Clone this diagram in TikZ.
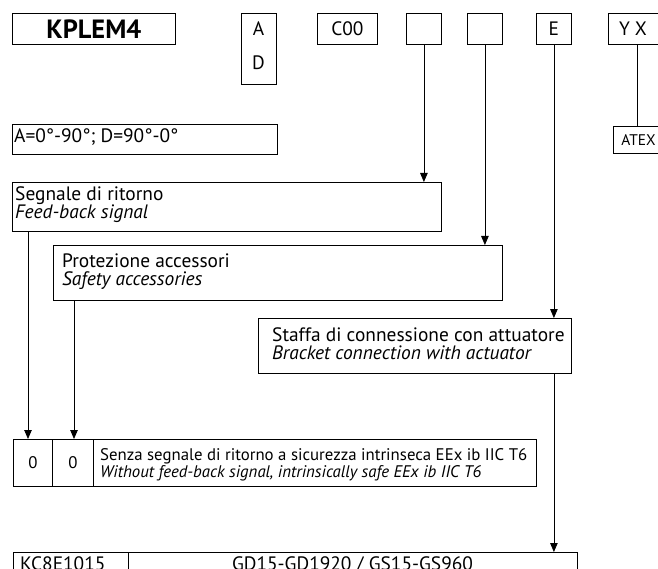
\documentclass[tikz,border=0pt]{standalone}
\usepackage{fontspec}
\setmainfont{PT Sans}
\usetikzlibrary{arrows.meta}

\tikzset{
  box/.style={draw, line width=0.8pt, inner sep=0pt, anchor=north west},
  conn/.style={line width=0.8pt},
  arr/.style={line width=0.8pt, -{Triangle[length=9pt,width=7.5pt]}},
  txt/.style={inner sep=0pt, anchor=base west, font=\fontsize{19.4}{22}\selectfont},
  small/.style={inner sep=0pt, anchor=base west, font=\fontsize{16.8}{19}\selectfont},
}

\begin{document}
\begin{tikzpicture}[x=1pt, y=-1pt]
\useasboundingbox (0,0) rectangle (658,569);
\clip (0,0) rectangle (658,569);

% code boxes on top
\node [box, minimum width=163, minimum height=31, font=\fontsize{26.4}{30}\selectfont\bfseries] (kplem) at (12,13) {KPLEM4};
\node [box, minimum width=35, minimum height=71] (selAD) at (241,13) {};
\node [txt, anchor=base] (selA) at (258.5,36) {A};
\node [txt, anchor=base] (selD) at (258.5,70) {D};
\node [box, minimum width=60, minimum height=31, font=\fontsize{19.4}{22}\selectfont] (selC) at (317,13) {C00};
\node [box, minimum width=35, minimum height=31] (selP1) at (406,13) {};
\node [box, minimum width=35, minimum height=31] (selP2) at (467,13) {};
\node [box, minimum width=35, minimum height=31, font=\fontsize{19.4}{22}\selectfont] (selE) at (536,13) {E};
\node [box, minimum width=58, minimum height=31] (selYX) at (608,13) {};
\node [txt, anchor=base] (yx) at (633,36) {Y X};
\node [box, minimum width=50, minimum height=27, font=\fontsize{15.4}{17}\selectfont] (atex) at (613,126) {ATEX};

% description boxes
\node [box, minimum width=265, minimum height=30] (angle) at (12,124) {};
\node [txt] (angleT) at (14,143) {A=0°-90°; D=90°-0°};

\node [box, minimum width=429, minimum height=49] (segn) at (12,182) {};
\node [txt] (segnIt) at (15,201) {Segnale di ritorno};
\node [txt] (segnEn) at (15,219) {\itshape Feed-back signal};

\node [box, minimum width=449, minimum height=55] (prot) at (53,245) {};
\node [txt] (protIt) at (62,267) {Protezione accessori};
\node [txt] (protEn) at (62,285) {\itshape Safety accessories};

\node [box, minimum width=313, minimum height=55] (staffa) at (258,318) {};
\node [txt] (staffaIt) at (272,341) {Staffa di connessione con attuatore};
\node [txt] (staffaEn) at (272,359) {\itshape Bracket connection with actuator};

% option row
\node [box, minimum width=39, minimum height=47, font=\fontsize{16.8}{19}\selectfont] (zeroA) at (13,439) {0};
\node [box, minimum width=41, minimum height=47, font=\fontsize{16.8}{19}\selectfont] (zeroB) at (52,439) {0};
\node [box, minimum width=443, minimum height=47] (zeroT) at (93,439) {};
\node [small] (zeroIt) at (100,460) {Senza segnale di ritorno a sicurezza intrinseca EEx ib IIC T6};
\node [small] (zeroEn) at (100,477) {\itshape Without feed-back signal, intrinsically safe EEx ib IIC T6};

% bracket row
\node [box, minimum width=115, minimum height=30] (kc) at (13,552) {};
\node [txt] (kcT) at (20,570) {KC8E1015};
\node [box, minimum width=449, minimum height=30] (gd) at (128,552) {};
\node [txt, anchor=base] (gdT) at (352.5,570) {GD15-GD1920 / GS15-GS960};

% connectors
\draw [arr] (selP1.south) -- (selP1.south |- segn.north);
\draw [arr] (selP2.south) -- (selP2.south |- prot.north);
\draw [arr] (selE.south) -- (selE.south |- staffa.north);
\draw [arr] (selE.south |- staffa.south) -- (selE.south |- gd.north);
\draw [conn] (selYX.south) -- (selYX.south |- atex.north);
\coordinate (fbL) at ([xshift=16pt]segn.south west);
\coordinate (saL) at ([xshift=21pt]prot.south west);
\draw [arr] (fbL) -- (fbL |- zeroA.north);
\draw [arr] (saL) -- (saL |- zeroB.north);

\end{tikzpicture}
\end{document}
